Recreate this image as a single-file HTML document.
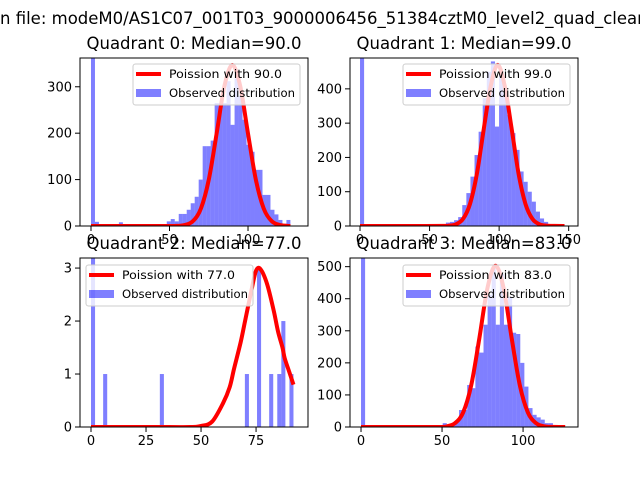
<!DOCTYPE html>
<html><head><meta charset="utf-8">
<style>
html,body{margin:0;padding:0;background:#fff;}
svg{display:block;font-family:"DejaVu Sans","Liberation Sans",sans-serif;}
</style></head>
<body>
<svg id="fig" width="640" height="480" viewBox="0 0 640 480" xmlns="http://www.w3.org/2000/svg">
<rect width="640" height="480" fill="#fff"/>
<text x="0" y="24" font-size="16.5" fill="#000">n file: modeM0/AS1C07_001T03_9000006456_51384cztM0_level2_quad_clean</text>
</svg>
<script>
// ---- data ----
const titles = ["Quadrant 0: Median=90.0","Quadrant 1: Median=99.0","Quadrant 2: Median=77.0","Quadrant 3: Median=83.0"];
const legendLabels = ["Poission with 90.0","Poission with 99.0","Poission with 77.0","Poission with 83.0"];
const binMax = [127, 147, 92, 126];
const counts0 = [2300,9,3,3,3,3,3,8,2,2,2,2,2,2,2,2,2,2,2,10,15,10,26,26,35,49,63,100,172,172,184,265,265,265,312,218,318,280,229,175,160,121,121,67,67,35,25,13,5,13];
const counts1 = [2300,2,2,2,2,2,5,2,2,2,2,2,2,2,2,2,2,2,2,2,2,10,12,17,26,61,96,144,207,275,373,450,480,290,447,388,324,271,222,159,129,100,71,42,22,12,3,2,1,1];
const counts2 = [5,0,0,1,0,0,0,0,0,0,0,0,0,0,0,0,0,1,0,0,0,0,0,0,0,0,0,0,0,0,0,0,0,0,0,0,0,0,1,0,0,3,0,0,1,0,1,2,0,1];
const counts3 = [2300,1,1,1,5,1,1,1,6,1,1,1,1,1,1,1,1,1,3,2,12,5,10,20,53,53,131,121,251,232,319,412,497,319,477,319,406,294,290,200,126,59,38,30,23,12,12,3,1,1];
const curveX0 = [0,20,40,55,60,65,70,75,80,85,90,95,100,105,110,115,120,125,127];
const curveY0 = [0,0,0,0.3,2.3,10.8,37.6,99.5,199,302,347,302,199,99.5,37.6,10.8,2.3,0.4,0.1];
const curveX1 = [0,20,40,60,64,69,74,79,84,89,94,99,104,109,114,119,124,129,134,140,147];
const curveY1 = [0,0,0,0.2,1,5,20.3,63.5,152,284,409,470,409,284,152,63.5,20.3,5,1,0.2,0];
const curveX2 = [0,15,30,45,50,55,60,63,65,68,70,73,75,77,80,83,85,87,88,90,92];
const curveY2 = [0,0,0,0,0.02,0.1,0.45,0.75,1.1,1.6,2.0,2.6,2.95,2.98,2.7,2.2,1.8,1.5,1.3,1.05,0.8];
const curveX3 = [0,20,40,50,53,58,63,68,73,78,83,88,93,98,103,108,113,118,126];
const curveY3 = [0,0,0,0.2,2,12,45,130,276,433,503,433,276,130,45,12,2,0.3,0];
const xTicks = [[0,50,100],[0,50,100,150],[0,25,50,75],[0,50,100]];
const yTicks = [[0,100,200,300],[0,100,200,300,400],[0,1,2,3],[0,100,200,300,400,500]];

// ---- layout (not data) ----
const panels = [
 {x0:80,x1:308,y0:58,y1:226,xmin:-7.0,xmax:138.2,ymax:362},
 {x0:350,x1:578,y0:58,y1:226,xmin:-7.2,xmax:156.7,ymax:490},
 {x0:80,x1:308,y0:258,y1:427,xmin:-5.0,xmax:98.6,ymax:3.19},
 {x0:350,x1:578,y0:258,y1:427,xmin:-6.8,xmax:133.9,ymax:527}
];
const legBoxes = [{x:133,y:64},{x:403,y:64},{x:86,y:265},{x:403,y:265}];
const allCounts = [counts0,counts1,counts2,counts3];
const allCX = [curveX0,curveX1,curveX2,curveX3];
const allCY = [curveY0,curveY1,curveY2,curveY3];

const NS = "http://www.w3.org/2000/svg";
const svg = document.getElementById('fig');
function mk(tag, attrs, parent){
  const e = document.createElementNS(NS, tag);
  for (const k in attrs) e.setAttribute(k, attrs[k]);
  (parent||svg).appendChild(e);
  return e;
}
function smoothPath(pts){
  let d = "M"+pts[0][0].toFixed(2)+","+pts[0][1].toFixed(2);
  for (let i=0;i<pts.length-1;i++){
    const p0=pts[Math.max(0,i-1)], p1=pts[i], p2=pts[i+1], p3=pts[Math.min(pts.length-1,i+2)];
    const c1x=p1[0]+(p2[0]-p0[0])/6, c1y=p1[1]+(p2[1]-p0[1])/6;
    const c2x=p2[0]-(p3[0]-p1[0])/6, c2y=p2[1]-(p3[1]-p1[1])/6;
    d += " C"+c1x.toFixed(2)+","+c1y.toFixed(2)+" "+c2x.toFixed(2)+","+c2y.toFixed(2)+" "+p2[0].toFixed(2)+","+p2[1].toFixed(2);
  }
  return d;
}

panels.forEach((P, i) => {
  const sx = v => P.x0 + (v - P.xmin) / (P.xmax - P.xmin) * (P.x1 - P.x0);
  const sy = v => P.y1 - v / P.ymax * (P.y1 - P.y0);
  const g = mk('g', {});
  
  
  const clipId = 'clip' + i;
  const cp = mk('clipPath', {id: clipId}, g);
  mk('rect', {x:P.x0, y:P.y0, width:P.x1-P.x0, height:P.y1-P.y0}, cp);
  const plot = mk('g', {'clip-path':'url(#'+clipId+')'}, g);

  const counts = allCounts[i];
  const bw = binMax[i] / counts.length;
  counts.forEach((c, k) => {
    if (c <= 0) return;
    const xl = sx(k * bw), xr = sx((k + 1) * bw);
    const yt = sy(c);
    const r = mk('rect', {x:xl, y:yt, width:Math.max(0, xr - xl), height:P.y1 - yt, fill:'#0000ff', 'fill-opacity':'0.5'}, plot);
    
    
  });

  const cx = allCX[i], cy = allCY[i];
  const pts = cx.map((x, j) => [sx(x), sy(cy[j])]);
  const path = mk('path', {d:smoothPath(pts), fill:'none', stroke:'#ff0000', 'stroke-width':'4', 'stroke-linejoin':'round'}, plot);
  
  

  const fr = mk('rect', {x:P.x0, y:P.y0, width:P.x1-P.x0, height:P.y1-P.y0, fill:'none', stroke:'#000', 'stroke-width':'1'}, g);
  
  

  xTicks[i].forEach(t => {
    const x = sx(t);
    mk('line', {x1:x, x2:x, y1:P.y1, y2:P.y1+5, stroke:'#000', 'stroke-width':'1'}, g);
    const tx = mk('text', {x:x, y:P.y1+18, 'font-size':'13', 'text-anchor':'middle', fill:'#000'}, g);
    tx.textContent = t;
    
    
  });
  yTicks[i].forEach(t => {
    const y = sy(t);
    mk('line', {x1:P.x0-5, x2:P.x0, y1:y, y2:y, stroke:'#000', 'stroke-width':'1'}, g);
    const ty = mk('text', {x:P.x0-8, y:y+4.5, 'font-size':'13', 'text-anchor':'end', fill:'#000'}, g);
    ty.textContent = t;
    
    
  });

  const tt = mk('text', {x:(P.x0+P.x1)/2, y:P.y0-9, 'font-size':'16.5', 'text-anchor':'middle', fill:'#000'}, g);
  tt.textContent = titles[i];
  
  

  const L = legBoxes[i];
  const lg = mk('g', {}, g);
  
  
  mk('rect', {x:L.x, y:L.y, width:167, height:41, rx:2.5, fill:'#fff', 'fill-opacity':'0.8', stroke:'#cccccc', 'stroke-width':'1'}, lg);
  mk('line', {x1:L.x+3, x2:L.x+28, y1:L.y+10, y2:L.y+10, stroke:'#ff0000', 'stroke-width':'4'}, lg);
  const lt1 = mk('text', {x:L.x+36, y:L.y+14, 'font-size':'11.8', fill:'#000', textLength:'113', lengthAdjust:'spacingAndGlyphs'}, lg);
  lt1.textContent = legendLabels[i];
  
  
  mk('rect', {x:L.x+3, y:L.y+25, width:25, height:8, fill:'#0000ff', 'fill-opacity':'0.5'}, lg);
  const lt2 = mk('text', {x:L.x+36, y:L.y+33, 'font-size':'11.8', fill:'#000', textLength:'126', lengthAdjust:'spacingAndGlyphs'}, lg);
  lt2.textContent = 'Observed distribution';
  
  
});
</script>
</body></html>
